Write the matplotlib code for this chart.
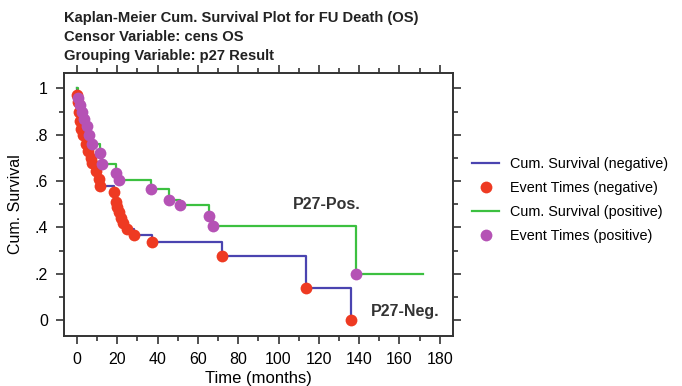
import matplotlib
matplotlib.use("Agg")
import matplotlib.pyplot as plt
from matplotlib.ticker import MultipleLocator, FixedLocator, FixedFormatter
from matplotlib.lines import Line2D

plt.rcParams['font.family'] = ['Liberation Sans', 'DejaVu Sans']

# negative group: event times (months) and survival after each event
neg_t = [0.3, 0.8, 1.2, 1.6, 2.0, 2.8, 4.3, 5.5, 6.8, 7.6, 9.5, 10.9, 11.7,
         18.3, 19.2, 19.8, 20.8, 21.8, 22.8, 25.0, 28.3, 37.5, 72.2, 113.5, 136.0]
neg_s = [0.97, 0.94, 0.90, 0.86, 0.826, 0.80, 0.76, 0.73, 0.70, 0.68, 0.645, 0.61, 0.58,
         0.553, 0.51, 0.49, 0.465, 0.44, 0.42, 0.395, 0.367, 0.335, 0.275, 0.137, 0.0]

# positive group
pos_t = [0.5, 1.5, 2.5, 3.5, 5.0, 6.0, 7.6, 11.7, 12.5, 19.2, 20.8,
         37.0, 45.8, 51.0, 65.6, 67.6, 138.3]
pos_s = [0.96, 0.93, 0.90, 0.87, 0.84, 0.80, 0.76, 0.72, 0.675, 0.635, 0.603,
         0.565, 0.52, 0.495, 0.45, 0.405, 0.20]
pos_end = 171.7

title_lines = ["Kaplan-Meier Cum. Survival Plot for FU Death (OS)",
               "Censor Variable: cens OS",
               "Grouping Variable: p27 Result"]
legend_labels = ["Cum. Survival (negative)", "Event Times (negative)",
                 "Cum. Survival (positive)", "Event Times (positive)"]
y_ticks = [0, 0.2, 0.4, 0.6, 0.8, 1.0]
y_labels = ["0", ".2", ".4", ".6", ".8", "1"]

blue = "#4a44b0"
red = "#ee3a22"
green = "#3cc040"
purple = "#b552b5"

fig = plt.figure(figsize=(6.82, 3.86), dpi=100)
ax = fig.add_axes([0.0938, 0.1295, 0.570, 0.6815])

# step curves
nx = [0] + neg_t
ny = [1.0] + neg_s
ax.step(nx, ny, where='post', color=blue, lw=1.6, zorder=2)
px = [0] + pos_t + [pos_end]
py = [1.0] + pos_s + [pos_s[-1]]
ax.step(px, py, where='post', color=green, lw=1.6, zorder=2)

ax.plot(neg_t, neg_s, 'o', color=red, ms=8.5, mec='none', zorder=3)
ax.plot(pos_t, pos_s, 'o', color=purple, ms=8.5, mec='none', zorder=4)

ax.set_xlim(-6.4, 186.4)
ax.set_ylim(-0.069, 1.067)
ax.xaxis.set_major_locator(MultipleLocator(20))
ax.xaxis.set_minor_locator(MultipleLocator(10))
ax.yaxis.set_major_locator(FixedLocator(y_ticks))
ax.yaxis.set_major_formatter(FixedFormatter(y_labels))
ax.yaxis.set_minor_locator(MultipleLocator(0.1))
ax.tick_params(which='both', direction='out', top=True, right=True,
               color='#333333', width=1.2)
ax.tick_params(which='major', length=5.5, labelsize=11.5, pad=6)
ax.tick_params(which='minor', length=3.5)
for sp in ax.spines.values():
    sp.set_linewidth(1.4)
    sp.set_color('#333333')

ax.set_xlabel("Time (months)", fontsize=12, labelpad=3)
ax.set_ylabel("Cum. Survival", fontsize=11.5, labelpad=8)

ax.text(123.8, 0.497, "P27-Pos.", fontsize=11.5, fontweight='bold',
        ha='center', va='center', color='#333333')
ax.text(162.6, 0.036, "P27-Neg.", fontsize=11.5, fontweight='bold',
        ha='center', va='center', color='#333333')

for i, line in enumerate(title_lines):
    fig.text(64 / 682, 1 - (18 + 19 * i) / 386, line, fontsize=10.6,
             fontweight='bold', ha='left', va='center', color='#222222')

handles = [Line2D([], [], color=blue, lw=1.6),
           Line2D([], [], color=red, marker='o', ls='none', ms=8.5, mec='none'),
           Line2D([], [], color=green, lw=1.6),
           Line2D([], [], color=purple, marker='o', ls='none', ms=8.5, mec='none')]
fig.legend(handles, legend_labels, loc='center left',
           bbox_to_anchor=(472 / 682, 1 - 200 / 386), frameon=False,
           fontsize=10.4, handlelength=1.9, handletextpad=0.75, labelspacing=0.7,
           borderaxespad=0, borderpad=0)

fig.savefig("out.png", dpi=100)
